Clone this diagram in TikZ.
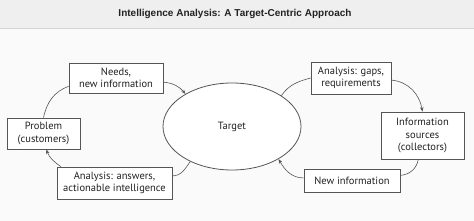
\documentclass[tikz,border=0pt]{standalone}
\usepackage{fontspec}
\usepackage{xcolor}
\usepackage{tikz}
\usetikzlibrary{arrows.meta,calc,positioning,shapes.geometric}
\newfontfamily\boxfont{PT Sans}
\newfontfamily\titlefont{Liberation Sans}
\definecolor{pagegray}{RGB}{250,250,250}
\definecolor{bargray}{RGB}{239,239,239}
\definecolor{rulegray}{RGB}{212,212,212}
\definecolor{linegray}{RGB}{85,85,85}
\definecolor{textgray}{RGB}{34,34,34}

\begin{document}
\begin{tikzpicture}[x=1pt,y=1pt,
  infobox/.style={draw=linegray,fill=white,line width=0.8pt,text=textgray,
    font=\boxfont\fontsize{10.5}{12.5}\selectfont,align=center,inner sep=1pt},
  flow/.style={draw=linegray,line width=0.6pt},
  flowarrow/.style={flow,-{Stealth[length=4.5pt,width=3.5pt]}}]
\useasboundingbox (0,0) rectangle (474,221);
% ---------- background and title ----------
\fill[pagegray] (0,0) rectangle (474,221);
\fill[bargray] (0,193) rectangle (474,221);
\draw[rulegray,line width=0.8pt] (0,193) -- (474,193);
\node[font=\titlefont\bfseries\fontsize{10}{12}\selectfont,text=textgray] (title) at (235,207) {Intelligence Analysis: A Target-Centric Approach};
% ---------- centre ----------
\node[draw=linegray,fill=white,line width=0.8pt,ellipse,minimum width=138pt,minimum height=87pt,
  font=\boxfont\fontsize{10.5}{12.5}\selectfont,text=textgray] (target) at (232,94.5) {Target};
% ---------- left loop ----------
\node[infobox,minimum width=94pt,minimum height=30pt] (needs) at (116,143) {Needs,\\new information};
\node[infobox,minimum width=73pt,minimum height=31pt] (problem) at (43.5,87.5) {Problem\\(customers)};
\node[infobox,minimum width=115pt,minimum height=32pt] (answers) at (114.5,38) {Analysis: answers,\\actionable intelligence};
% ---------- right loop ----------
\node[infobox,minimum width=80pt,minimum height=32pt] (gaps) at (351,143) {Analysis: gaps,\\requirements};
\node[infobox,minimum width=83pt,minimum height=47pt] (sources) at (422.5,85.5) {Information\\sources\\(collectors)};
\node[infobox,minimum width=96pt,minimum height=23pt] (newinfo) at (352,40.5) {New information};
% ---------- connectors ----------
\draw[flow] (problem.north) to[out=78,in=200] (needs.190);
\draw[flowarrow] (needs.-5) to[out=-5,in=130] (target.145);
\draw[flow] (target.220) to[out=235,in=0] (answers.7);
\draw[flowarrow] (answers.163) to[out=145,in=-70] (problem.-80);
\draw[flow] (target.32) to[out=55,in=195] (gaps.west);
\draw[flowarrow] (gaps.-3) to[out=-5,in=100] (sources.north);
\draw[flow] (sources.-100) to[out=-100,in=5] (newinfo.6);
\draw[flowarrow] (newinfo.177) to[out=180,in=-60] (target.-35);
\end{tikzpicture}
\end{document}
